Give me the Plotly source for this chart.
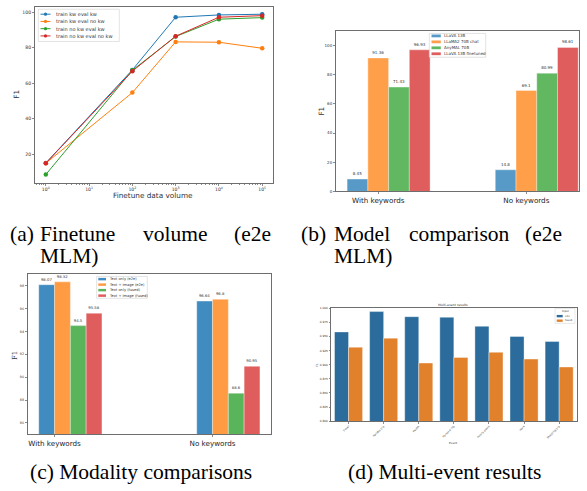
import plotly.graph_objects as go

W, H = 587, 491

# ---------------- data ----------------
# (a) Finetune volume
volume = [1, 100, 1000, 10000, 100000]
a_series = ["train kw eval kw", "train kw eval no kw", "train no kw eval kw", "train no kw eval no kw"]
a_kw_kw = [15.0, 67.5, 97.2, 98.5, 98.9]
a_kw_nokw = [14.9, 54.7, 83.3, 83.1, 79.7]
a_nokw_kw = [8.5, 67.3, 86.3, 96.1, 97.0]
a_nokw_nokw = [14.9, 66.8, 86.5, 97.2, 98.1]
a_xtickvals = [1, 10, 100, 1000, 10000, 100000]
a_xticktext = ["10<sup>0</sup>", "10<sup>1</sup>", "10<sup>2</sup>", "10<sup>3</sup>", "10<sup>4</sup>", "10<sup>5</sup>"]

# (b) Model comparison
b_groups = ["With keywords", "No keywords"]
b_models = ["LLaVA 13B", "LLaMA2 70B chat", "AnyMAL 70B", "LLaVA 13B finetuned"]
b_llava = [8.45, 14.8]
b_llama = [91.36, 69.1]
b_anymal = [71.43, 80.99]
b_llava_ft = [96.93, 98.61]

# (c) Modality comparisons
c_groups = ["With keywords", "No keywords"]
c_settings = ["Text only (e2e)", "Text + Image (e2e)", "Text only (fused)", "Text + Image (fused)"]
c_text_e2e = [98.07, 96.64]
c_textimg_e2e = [98.32, 96.8]
c_text_fused = [94.5, 88.6]
c_textimg_fused = [95.58, 90.95]

# (d) Multi-event results
d_events = ["Travel", "Holiday trip", "Health", "Personal life", "Family event", "Work", "Shopping trip"]
d_inputs = ["e2e", "fused"]
d_e2e = [0.958, 0.994, 0.985, 0.984, 0.968, 0.950, 0.941]
d_fused = [0.931, 0.947, 0.903, 0.913, 0.922, 0.910, 0.896]

# ---------------- helpers ----------------
def px(x):
    return x / W

def py(y):
    return 1 - y / H

TAB = ["#1f77b4", "#ff7f0e", "#2ca02c", "#d62728"]
SEA = ["#2b6c9c", "#e1812c"]
AX = "#6e6e6e"
TXT = "#333333"
SANS = "DejaVu Sans"
SERIF = "Liberation Serif"

def axstyle(**kw):
    d = dict(showline=True, mirror=True, linecolor=AX, linewidth=1,
             ticks="outside", ticklen=2, tickcolor=AX, tickwidth=0.8,
             showgrid=False, zeroline=False,
             tickfont=dict(family=SANS, size=4, color=TXT))
    d.update(kw)
    return d

fig = go.Figure()
annotations = []
shapes = []

def text(x, y, s, size, xanchor="center", yanchor="middle", angle=0, family=SANS, color=TXT):
    annotations.append(dict(x=px(x), y=py(y), xref="paper", yref="paper", text=s,
                            showarrow=False, xanchor=xanchor, yanchor=yanchor,
                            textangle=angle, borderpad=0,
                            font=dict(family=family, size=size, color=color)))

def rect(x0, y0, x1, y1, fill, line="rgba(0,0,0,0)", lw=0):
    shapes.append(dict(type="rect", xref="paper", yref="paper",
                       x0=px(x0), x1=px(x1), y0=py(y1), y1=py(y0),
                       fillcolor=fill, line=dict(color=line, width=lw)))

# ---------------- (a) ----------------
a_vals = [a_kw_kw, a_kw_nokw, a_nokw_kw, a_nokw_nokw]
for name, vals, col in zip(a_series, a_vals, TAB):
    fig.add_trace(go.Scatter(x=volume, y=vals, name=name, mode="lines+markers",
                             line=dict(color=col, width=1), marker=dict(color=col, size=4.5),
                             xaxis="x", yaxis="y", showlegend=False))

minor_vals = [m * 10 ** k for k in range(-1, 5) for m in range(2, 10) if 0.56 < m * 10 ** k < 1.78e5]

layout_axes = dict(
    xaxis=axstyle(domain=[px(35), px(273)], anchor="y", type="log", range=[-0.25, 5.25],
                  tickvals=a_xtickvals, ticktext=a_xticktext,
                  tickfont=dict(family=SANS, size=4.6, color=TXT),
                  minor=dict(tickvals=minor_vals, ticks="outside", ticklen=1.2, tickcolor=AX)),
    yaxis=axstyle(domain=[py(182), py(5)], anchor="x", range=[4, 103], dtick=20,
                  tickfont=dict(family=SANS, size=4.6, color=TXT)),
)

# legend (a)
rect(38.3, 7.3, 119.3, 39.8, "rgba(255,255,255,0.85)", "#d0d0d0", 0.6)
for i, (name, col) in enumerate(zip(a_series, TAB)):
    yy = 12.3 + i * 7.3
    shapes.append(dict(type="line", xref="paper", yref="paper", x0=px(40.5), x1=px(50.5),
                       y0=py(yy), y1=py(yy), line=dict(color=col, width=1)))
    shapes.append(dict(type="circle", xref="paper", yref="paper", x0=px(43.9), x1=px(47.1),
                       y0=py(yy + 1.6), y1=py(yy - 1.6), fillcolor=col, line=dict(color=col, width=0)))
    text(54.5, yy, name, 5, xanchor="left")

text(153, 195, "Finetune data volume", 7.3)
text(17, 93.5, "F1", 7.3, angle=-90)

# ---------------- (b) ----------------
B_ALPHA = ["rgba(31,119,180,0.75)", "rgba(255,127,14,0.75)", "rgba(44,160,44,0.75)", "rgba(214,39,40,0.75)"]
b_vals = [b_llava, b_llama, b_anymal, b_llava_ft]
for i, (name, vals, col) in enumerate(zip(b_models, b_vals, B_ALPHA)):
    fig.add_trace(go.Bar(x=b_groups, y=vals, name=name, width=0.14, offset=-0.21 + 0.14 * i,
                         marker=dict(color=col, line=dict(color="rgba(255,255,255,0.7)", width=0.5)),
                         text=[str(v) for v in vals], textposition="outside", constraintext="none",
                         textfont=dict(family=SANS, size=4, color=TXT), cliponaxis=False,
                         xaxis="x2", yaxis="y2", showlegend=False))

layout_axes.update(
    xaxis2=axstyle(domain=[px(336), px(579)], anchor="y2", type="category", range=[-0.285, 1.355],
                   tickfont=dict(family=SANS, size=7.2, color="#222")),
    yaxis2=axstyle(domain=[py(191), py(29)], anchor="x2", range=[0, 110], dtick=20,
                   tickfont=dict(family=SANS, size=4, color=TXT)),
)
rect(429.3, 31.7, 485.7, 55.7, "rgba(255,255,255,0.85)", "#d0d0d0", 0.6)
for i, (name, col) in enumerate(zip(b_models, B_ALPHA)):
    yy = 34.2 + i * 6.0
    rect(431.5, yy - 1.4, 440.8, yy + 1.4, col)
    text(442.7, yy, name, 4, xanchor="left")
text(322, 110.5, "F1", 7.3, angle=-90)

# ---------------- (c) ----------------
C_ALPHA = ["rgba(31,119,180,0.85)", "rgba(255,127,14,0.78)", "rgba(44,160,44,0.78)", "rgba(214,39,40,0.75)"]
c_vals = [c_text_e2e, c_textimg_e2e, c_text_fused, c_textimg_fused]
for i, (name, vals, col) in enumerate(zip(c_settings, c_vals, C_ALPHA)):
    fig.add_trace(go.Bar(x=c_groups, y=vals, name=name, width=0.1, offset=-0.1 + 0.1 * i,
                         marker=dict(color=col, line=dict(color="rgba(255,255,255,0.7)", width=0.5)),
                         text=[str(v) for v in vals], textposition="outside", constraintext="none",
                         textfont=dict(family=SANS, size=3.8, color=TXT), cliponaxis=True,
                         xaxis="x3", yaxis="y3", showlegend=False))

layout_axes.update(
    xaxis3=axstyle(domain=[px(27.7), px(271)], anchor="y3", type="category", range=[-0.17, 1.37],
                   tickfont=dict(family=SANS, size=7.2, color="#222")),
    yaxis3=axstyle(domain=[py(436), py(274.3)], anchor="x3", range=[85, 99], dtick=2,
                   tickfont=dict(family=SANS, size=3.3, color=TXT)),
)
rect(96.7, 276.7, 147.3, 298.7, "rgba(255,255,255,0.85)", "#d0d0d0", 0.6)
for i, (name, col) in enumerate(zip(c_settings, C_ALPHA)):
    yy = 279.4 + i * 5.55
    rect(98.3, yy - 1.25, 106, yy + 1.25, col)
    text(108.3, yy, name, 3.6, xanchor="left")
text(15, 357, "F1", 7, angle=-90, family="DejaVu Serif")

# ---------------- (d) ----------------
for i, (name, vals, col) in enumerate(zip(d_inputs, [d_e2e, d_fused], SEA)):
    fig.add_trace(go.Bar(x=d_events, y=vals, name=name, width=0.4, offset=-0.4 + 0.4 * i,
                         marker=dict(color=col, line=dict(color="rgba(255,255,255,0.55)", width=0.7)),
                         xaxis="x4", yaxis="y4", showlegend=False))

layout_axes.update(
    xaxis4=axstyle(domain=[px(331), px(576.7)], anchor="y4", type="category", range=[-0.5, 6.5],
                   tickangle=-45, ticklen=1.5, tickfont=dict(family=SANS, size=2.6, color=TXT)),
    yaxis4=axstyle(domain=[py(422.7), py(308.7)], anchor="x4", range=[0.8, 1.0], dtick=0.025,
                   tickformat=".3f", ticklen=1.5, tickfont=dict(family=SANS, size=2.9, color=TXT)),
)
rect(555, 309, 575, 324, "rgba(255,255,255,0.85)", "#d0d0d0", 0.5)
text(565, 312, "Input", 2.6)
for i, (name, col) in enumerate(zip(d_inputs, SEA)):
    yy = 316.7 + i * 4.6
    rect(556.7, yy - 1.2, 562.7, yy + 1.2, col)
    text(564.3, yy, name, 2.6, xanchor="left")
text(453, 305.5, "Multi-event results", 3.2)
text(316.7, 366, "F1", 2.8, angle=-90)
text(453, 445, "Event", 2.8)

# ---------------- captions ----------------
CAP = 21.5
K = "black"
text(9.3, 234, "(a)", CAP, xanchor="left", family=SERIF, color=K)
text(38.9, 234, "Finetune", CAP, xanchor="left", family=SERIF, color=K)
text(142, 234, "volume", CAP, xanchor="left", family=SERIF, color=K)
text(272, 234, "(e2e", CAP, xanchor="right", family=SERIF, color=K)
text(38.9, 256.5, "MLM)", CAP, xanchor="left", family=SERIF, color=K)

text(300, 234, "(b)", CAP, xanchor="left", family=SERIF, color=K)
text(333, 234, "Model", CAP, xanchor="left", family=SERIF, color=K)
text(407.5, 234, "comparison", CAP, xanchor="left", family=SERIF, color=K)
text(563, 234, "(e2e", CAP, xanchor="right", family=SERIF, color=K)
text(333, 256.5, "MLM)", CAP, xanchor="left", family=SERIF, color=K)

text(141.3, 474, "(c) Modality comparisons", CAP, family=SERIF, color=K)
text(444, 474, "(d) Multi-event results", CAP, family=SERIF, color=K)

fig.update_layout(
    width=W, height=H, margin=dict(l=0, r=0, t=0, b=0),
    paper_bgcolor="white", plot_bgcolor="white",
    barmode="overlay", showlegend=False, hovermode=False,
    annotations=annotations, shapes=shapes,
    **layout_axes,
)

fig.write_html("out.html", config={"displayModeBar": False, "staticPlot": True},
               post_script="document.body.style.margin='0px';document.body.style.overflow='hidden';")
